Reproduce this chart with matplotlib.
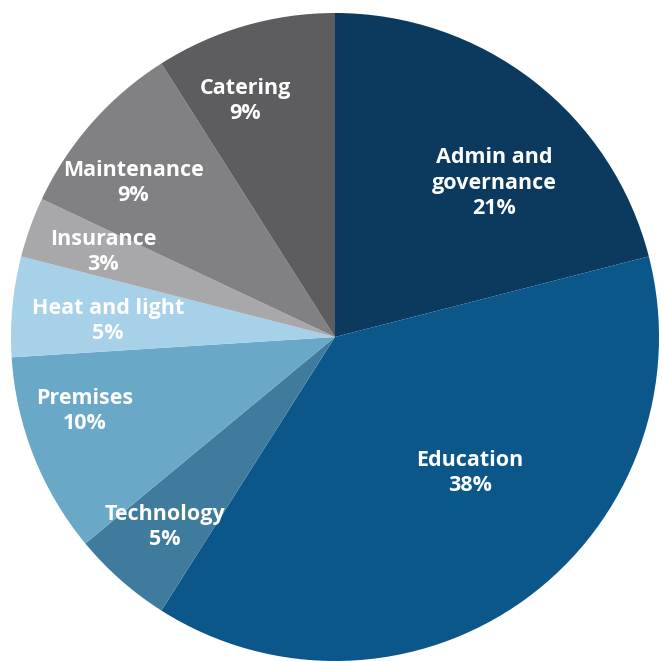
import matplotlib
matplotlib.use("Agg")
import matplotlib.pyplot as plt

categories = ["Admin and\ngovernance", "Education", "Technology", "Premises",
              "Heat and light", "Insurance", "Maintenance", "Catering"]
shares = [21, 38, 5, 10, 5, 3, 9, 9]
colors = ["#0b3a5e", "#0b578a", "#3f7b9c", "#6aa8c8", "#a6d1e8",
          "#a8a8aa", "#818184", "#5d5c5f"]

# label anchor points in pixel space of the 662x661 canvas
label_px = [(494, 183), (470, 473), (165, 527), (85, 411),
            (108, 321), (103, 252), (133, 183), (245, 101)]

W, H = 662, 661
cx, cy, r = 335, 337, 324

fig = plt.figure(figsize=(W / 100, H / 100), dpi=100)
ax = fig.add_axes([0, 0, 1, 1])

ax.pie(shares, colors=colors, startangle=90, counterclock=False,
       radius=1.0, center=(0, 0), frame=True,
       wedgeprops=dict(linewidth=0))
ax.set_xlim(-cx / r, (W - cx) / r)
ax.set_ylim(-(H - cy) / r, cy / r)
ax.set_aspect("equal")
ax.axis("off")

for name, val, (px, py) in zip(categories, shares, label_px):
    x = (px - cx) / r
    y = (cy - py) / r
    ax.text(x, y, f"{name}\n{val}%", ha="center", va="center",
            color="white", fontsize=15.5, fontweight="bold",
            family=["Open Sans", "DejaVu Sans"], linespacing=1.3)

fig.savefig("out.png", dpi=100)
